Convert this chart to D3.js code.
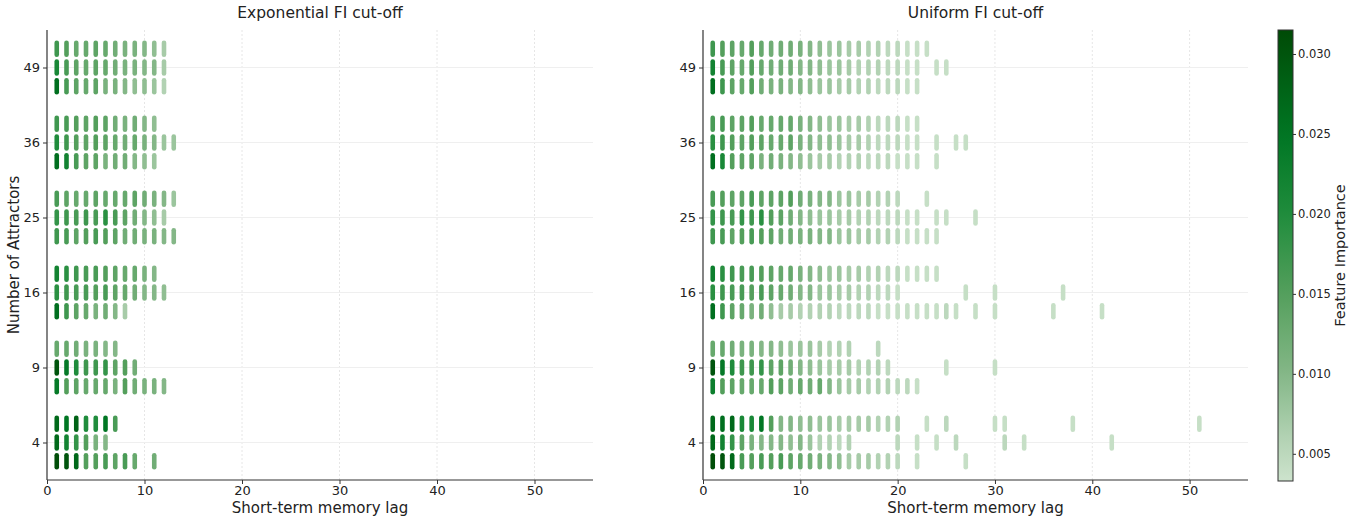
<!DOCTYPE html>
<html>
<head>
<meta charset="utf-8">
<script src="https://cdn.jsdelivr.net/npm/d3@7"></script>
<style>
  html, body { margin: 0; padding: 0; background: #fff; }
  svg { display: block; font-family: "DejaVu Sans", sans-serif; }
</style>
</head>
<body>
<svg id="chart" width="1369" height="520"></svg>
<script>
// Attractor counts on the y axis; each count has three sub-rows (top, middle, bottom)
const categories = [4, 9, 16, 25, 36, 49];
const xTicks = [0, 10, 20, 30, 40, 50];
const colorbarTicks = [0.005, 0.010, 0.015, 0.020, 0.025, 0.030];

// Rows: [attractors, subRow (0 = top, 1 = middle, 2 = bottom), [[lag, FI x 1000], ...]]
const exponentialFI = [
  [49, 0, [[1,17],[2,15],[3,13],[4,13],[5,14],[6,13],[7,12],[8,11],[9,11],[10,10],[11,9],[12,7]]],
  [49, 1, [[1,21],[2,16],[3,14],[4,13],[5,14],[6,13],[7,12],[8,11],[9,11],[10,10],[11,10],[12,7]]],
  [49, 2, [[1,26],[2,16],[3,14],[4,13],[5,14],[6,11],[7,11],[8,10],[9,9],[10,9],[11,8],[12,6]]],
  [36, 0, [[1,17],[2,16],[3,15],[4,14],[5,15],[6,14],[7,12],[8,11],[9,12],[10,10],[11,9]]],
  [36, 1, [[1,20],[2,17],[3,15],[4,14],[5,15],[6,14],[7,13],[8,12],[9,13],[10,11],[11,10],[12,8],[13,8]]],
  [36, 2, [[1,26],[2,22],[3,16],[4,14],[5,14],[6,11],[7,12],[8,12],[9,10],[10,9],[11,8]]],
  [25, 0, [[1,16],[2,14],[3,13],[4,13],[5,14],[6,13],[7,13],[8,13],[9,14],[10,12],[11,11],[12,10],[13,8]]],
  [25, 1, [[1,18],[2,17],[3,16],[4,17],[5,16],[6,19],[7,16],[8,14],[9,12],[10,10],[11,9],[12,7]]],
  [25, 2, [[1,17],[2,16],[3,14],[4,15],[5,16],[6,15],[7,14],[8,12],[9,12],[10,11],[11,11],[12,10],[13,10]]],
  [16, 0, [[1,22],[2,19],[3,17],[4,16],[5,16],[6,15],[7,14],[8,13],[9,13],[10,11],[11,10]]],
  [16, 1, [[1,19],[2,17],[3,16],[4,16],[5,15],[6,16],[7,14],[8,13],[9,12],[10,10],[11,10],[12,9]]],
  [16, 2, [[1,26],[2,17],[3,14],[4,13],[5,11],[6,12],[7,10],[8,7]]],
  [9, 0, [[1,13],[2,13],[3,12],[4,11],[5,11],[6,10],[7,10]]],
  [9, 1, [[1,30],[2,24],[3,20],[4,17],[5,17],[6,18],[7,14],[8,15],[9,12]]],
  [9, 2, [[1,24],[2,15],[3,14],[4,13],[5,13],[6,13],[7,11],[8,15],[9,12],[10,11],[11,11],[12,10]]],
  [4, 0, [[1,27],[2,25],[3,28],[4,20],[5,20],[6,25],[7,16]]],
  [4, 1, [[1,27],[2,22],[3,18],[4,15],[5,11],[6,10]]],
  [4, 2, [[1,31],[2,30],[3,27],[4,15],[5,15],[6,16],[7,14],[8,16],[9,13],[11,12]]]
];

const uniformFI = [
  [49, 0, [[1,17],[2,15],[3,14],[4,13],[5,15],[6,13],[7,12],[8,12],[9,12],[10,11],[11,10],[12,9],[13,8],[14,8],[15,7],[16,7],[17,6],[18,6],[19,5],[20,5],[21,4],[22,4],[23,4]]],
  [49, 1, [[1,22],[2,16],[3,14],[4,13],[5,15],[6,13],[7,12],[8,12],[9,12],[10,10],[11,10],[12,9],[13,8],[14,8],[15,7],[16,6],[17,6],[18,6],[19,5],[20,5],[21,4],[22,4],[24,4],[25,4]]],
  [49, 2, [[1,26],[2,17],[3,14],[4,13],[5,15],[6,12],[7,11],[8,11],[9,10],[10,10],[11,9],[12,8],[13,8],[14,7],[15,7],[16,6],[17,6],[18,5],[19,5],[20,5],[21,4],[22,4]]],
  [36, 0, [[1,16],[2,16],[3,14],[4,14],[5,15],[6,13],[7,13],[8,13],[9,13],[10,11],[11,10],[12,9],[13,8],[14,8],[15,7],[16,7],[17,6],[18,5],[19,5],[20,5],[21,4],[22,4]]],
  [36, 1, [[1,19],[2,17],[3,15],[4,14],[5,15],[6,14],[7,13],[8,13],[9,14],[10,11],[11,10],[12,9],[13,9],[14,8],[15,7],[16,7],[17,6],[18,5],[19,5],[20,5],[21,4],[22,4],[24,4],[26,4],[27,4]]],
  [36, 2, [[1,26],[2,21],[3,15],[4,14],[5,14],[6,11],[7,12],[8,11],[9,10],[10,9],[11,8],[12,7],[13,7],[14,6],[15,6],[16,6],[17,5],[18,5],[19,5],[20,4],[21,4],[22,4],[24,4]]],
  [25, 0, [[1,16],[2,15],[3,14],[4,14],[5,16],[6,14],[7,14],[8,14],[9,15],[10,12],[11,11],[12,10],[13,10],[14,8],[15,8],[16,7],[17,7],[18,6],[19,6],[20,5],[23,4]]],
  [25, 1, [[1,18],[2,17],[3,16],[4,18],[5,17],[6,19],[7,15],[8,14],[9,12],[10,10],[11,9],[12,8],[13,8],[14,7],[15,7],[16,6],[17,6],[18,5],[19,5],[20,5],[21,4],[22,4],[24,4],[25,4],[28,4]]],
  [25, 2, [[1,17],[2,16],[3,14],[4,15],[5,16],[6,15],[7,14],[8,12],[9,12],[10,11],[11,11],[12,10],[13,10],[14,8],[15,8],[16,7],[17,7],[18,6],[19,6],[20,5],[21,4],[22,4],[23,4],[24,4]]],
  [16, 0, [[1,23],[2,19],[3,17],[4,16],[5,16],[6,15],[7,14],[8,13],[9,13],[10,11],[11,10],[12,9],[13,8],[14,8],[15,7],[16,7],[17,6],[18,6],[19,5],[20,5],[21,4],[22,4],[23,4],[24,4]]],
  [16, 1, [[1,19],[2,17],[3,16],[4,16],[5,15],[6,16],[7,14],[8,13],[9,12],[10,10],[11,10],[12,8],[13,8],[14,7],[15,7],[16,6],[17,6],[18,5],[19,5],[20,4],[27,4],[30,4],[37,4]]],
  [16, 2, [[1,26],[2,17],[3,14],[4,13],[5,11],[6,12],[7,9],[8,7],[9,7],[10,6],[11,6],[12,6],[13,6],[14,5],[15,5],[16,5],[17,5],[18,4],[19,4],[20,4],[21,4],[22,4],[23,4],[24,4],[25,5],[26,4],[28,4],[30,4],[36,4],[41,4]]],
  [9, 0, [[1,13],[2,13],[3,12],[4,11],[5,11],[6,10],[7,10],[8,9],[9,8],[10,8],[11,8],[12,7],[13,6],[14,6],[15,6],[18,5]]],
  [9, 1, [[1,30],[2,24],[3,20],[4,17],[5,17],[6,18],[7,14],[8,14],[9,12],[10,10],[11,9],[12,8],[13,7],[14,7],[15,7],[16,6],[17,6],[18,6],[19,5],[25,4],[30,4]]],
  [9, 2, [[1,23],[2,15],[3,14],[4,13],[5,13],[6,13],[7,15],[8,14],[9,12],[10,13],[11,12],[12,13],[13,10],[14,8],[15,7],[16,7],[17,6],[18,6],[19,6],[20,5],[21,5],[22,4]]],
  [4, 0, [[1,27],[2,26],[3,27],[4,21],[5,21],[6,25],[7,15],[8,10],[9,10],[10,9],[11,9],[12,8],[13,8],[14,7],[15,7],[16,7],[17,7],[18,6],[19,6],[20,6],[23,4],[25,5],[30,4],[31,4],[38,4],[51,4]]],
  [4, 1, [[1,27],[2,22],[3,18],[4,14],[5,11],[6,10],[7,10],[8,10],[9,9],[10,10],[11,8],[12,6],[13,6],[14,5],[15,6],[20,5],[22,4],[24,4],[26,5],[31,5],[33,4],[42,4]]],
  [4, 2, [[1,31],[2,30],[3,27],[4,16],[5,15],[6,16],[7,15],[8,16],[9,14],[10,13],[11,12],[12,11],[13,10],[14,9],[15,7],[16,7],[17,7],[18,6],[19,6],[20,5],[22,4],[27,4]]]
];

const svg = d3.select("#chart");
const fiMin = 0.0033, fiMax = 0.0315;

// Light sage to deep green colour ramp
const color = d3.scaleLinear()
  .domain([fiMin, 0.006, 0.010, 0.015, 0.020, 0.025, fiMax])
  .range(["#cde3cd", "#b2d2b3", "#84b787", "#549f5c", "#1f8c3c", "#007623", "#004b06"])
  .interpolate(d3.interpolateRgb)
  .clamp(true);

const subOffset = [0.25, 0, -0.25];
const plotTop = 30, plotBottom = 480;

function drawPanel(x0, x1, title, rows, showYLabel) {
  const x = d3.scaleLinear().domain([0, 56]).range([x0, x1]);
  const y = d3.scaleLinear().domain([-0.5, 5.5]).range([plotBottom, plotTop]);
  const g = svg.append("g");

  // grid
  g.append("g").selectAll("line").data(xTicks.slice(1)).join("line")
    .attr("x1", d => x(d)).attr("x2", d => x(d))
    .attr("y1", plotTop).attr("y2", plotBottom)
    .attr("stroke", "#e6e6e6").attr("stroke-width", 1)
    .attr("stroke-dasharray", "2,2");
  g.append("g").selectAll("line").data(categories).join("line")
    .attr("x1", x0).attr("x2", x1)
    .attr("y1", (d, i) => y(i)).attr("y2", (d, i) => y(i))
    .attr("stroke", "#efefef").attr("stroke-width", 1);

  // marks
  const marks = [];
  rows.forEach(([cat, sub, pts]) => {
    const ci = categories.indexOf(cat);
    pts.forEach(([lag, v]) => marks.push({ lag, fi: v / 1000, pos: ci + subOffset[sub] }));
  });
  const w = 4.6, h = 16.6;
  g.append("g").selectAll("rect").data(marks).join("rect")
    .attr("x", d => x(d.lag) - w / 2)
    .attr("y", d => y(d.pos) - h / 2)
    .attr("width", w).attr("height", h)
    .attr("rx", w / 2).attr("ry", w / 2)
    .attr("fill", d => color(d.fi));

  // axes
  const xAxis = d3.axisBottom(x).tickValues(xTicks).tickSize(4).tickPadding(2);
  const gx = g.append("g").attr("transform", `translate(0,${plotBottom})`).call(xAxis);
  const yAxis = d3.axisLeft(y).tickValues(d3.range(categories.length))
    .tickFormat(i => categories[i]).tickSize(4).tickPadding(3);
  const gy = g.append("g").attr("transform", `translate(${x0},0)`).call(yAxis);
  [gx, gy].forEach(a => {
    a.select(".domain").attr("stroke", "#333").attr("stroke-width", 1.2);
    a.selectAll(".tick line").attr("stroke", "#333");
    a.selectAll(".tick text").attr("fill", "#222").style("font-size", "13px")
      .style("font-family", "DejaVu Sans, sans-serif");
  });
  gy.select(".domain").attr("d", `M0,${plotTop}V${plotBottom}`);
  gx.select(".domain").attr("d", `M${x0},0H${x1}`);

  svg.append("text").attr("x", (x0 + x1) / 2).attr("y", 18)
    .attr("text-anchor", "middle").attr("fill", "#222")
    .style("font-size", "15.5px").text(title);
  svg.append("text").attr("x", (x0 + x1) / 2).attr("y", 513)
    .attr("text-anchor", "middle").attr("fill", "#222")
    .style("font-size", "15px").text("Short-term memory lag");
  if (showYLabel) {
    svg.append("text")
      .attr("transform", `translate(19,${(plotTop + plotBottom) / 2}) rotate(-90)`)
      .attr("text-anchor", "middle").attr("fill", "#222")
      .style("font-size", "15px").text("Number of Attractors");
  }
}

drawPanel(47, 593, "Exponential FI cut-off", exponentialFI, true);
drawPanel(703, 1248, "Uniform FI cut-off", uniformFI, false);

// colorbar
const cbX = 1278, cbW = 15;
const cy = d3.scaleLinear().domain([fiMin, fiMax]).range([481, 30]);
const defs = svg.append("defs");
const grad = defs.append("linearGradient").attr("id", "fiRamp")
  .attr("x1", 0).attr("y1", 1).attr("x2", 0).attr("y2", 0);
d3.range(0, 1.0001, 0.05).forEach(t => {
  grad.append("stop").attr("offset", t).attr("stop-color", color(fiMin + t * (fiMax - fiMin)));
});
svg.append("rect").attr("x", cbX).attr("y", cy(fiMax)).attr("width", cbW)
  .attr("height", cy(fiMin) - cy(fiMax)).attr("fill", "url(#fiRamp)")
  .attr("stroke", "#333").attr("stroke-width", 1);
const cAxis = d3.axisRight(cy).tickValues(colorbarTicks).tickFormat(d3.format(".3f"))
  .tickSize(3).tickPadding(2);
const gc = svg.append("g").attr("transform", `translate(${cbX + cbW},0)`).call(cAxis);
gc.select(".domain").remove();
gc.selectAll(".tick line").attr("stroke", "#333");
gc.selectAll(".tick text").attr("fill", "#222").style("font-size", "11.5px")
  .style("font-family", "DejaVu Sans, sans-serif");
svg.append("text")
  .attr("transform", `translate(1345,${(30 + 481) / 2}) rotate(-90)`)
  .attr("text-anchor", "middle").attr("fill", "#222")
  .style("font-size", "14.5px").text("Feature Importance");
</script>
</body>
</html>
